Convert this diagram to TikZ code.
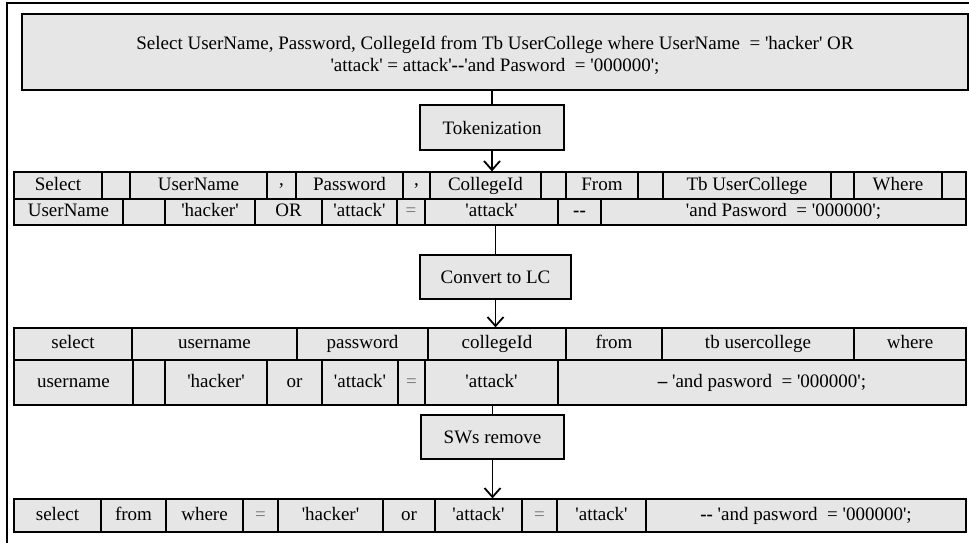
\documentclass[tikz,border=0pt]{standalone}
\usepackage{fontspec}
\setmainfont{Liberation Serif}
\newfontfamily\tfont{Liberation Serif}
\usetikzlibrary{arrows.meta}
\definecolor{cellgray}{RGB}{230,230,230}
\tikzset{
  cell/.style={draw=black, line width=1.3pt, fill=cellgray, inner sep=0pt,
    font=\tfont\fontsize{19}{22}\selectfont, text height=13pt, text depth=4pt},
  procbox/.style={draw=black, line width=1.5pt, fill=cellgray, inner sep=0pt,
    font=\tfont\fontsize{19}{22}\selectfont, minimum height=44pt},
  topbox/.style={draw=black, line width=2pt, fill=cellgray, inner sep=0pt},
  toptext/.style={inner sep=0pt, align=center, font=\tfont\fontsize{19}{22}\selectfont},
  link/.style={line width=1.6pt},
  arr/.style={line width=1.8pt, -{Straight Barb[length=9pt,width=16pt,line width=1.8pt]}}
}
\newcommand\cellrow[4]{%
  \foreach \a/\b/\t [count=\i] in {#4} {
    \node[cell, minimum width={(\b-\a)*1pt}, minimum height={(#3-#2)*1pt}]
      (#1c\i) at ({(\a+\b)/2},{(#2+#3)/2}) {\t};
  }}
\newcommand\eqg{{\color{black!55}=}}
\begin{document}
\begin{tikzpicture}[x=1pt,y=-1pt]
\useasboundingbox (0,0) rectangle (969,542);
% outer frame (right and bottom sides fall outside the picture)
\draw[line width=1.5pt] (7,3) rectangle (990,560);

\node[topbox, minimum width=946pt, minimum height=76pt] (top) at (495,52) {};
\node[toptext] (toptxt) at (495,55)
  {Select UserName, Password, CollegeId from Tb UserCollege where UserName\ \ = 'hacker' OR\\
   'attack' = attack'{\bfseries --}'and Pasword\ \ = '000000';};

\node[procbox, minimum width=144pt, minimum height=45pt] (tok) at (492,127.5) {Tokenization};

\cellrow{r1}{172}{199}{14/102/Select, 102/130/{}, 130/267/UserName, 267/296/{\raisebox{5pt}{,}},
  296/403/Password, 403/430/{\raisebox{5pt}{,}}, 430/541/CollegeId, 541/566/{}, 566/638/From,
  638/663/{}, 663/831/Tb UserCollege, 831/854/{}, 854/942/Where, 942/966/{}}
\cellrow{r2}{199}{225}{14/123/UserName, 123/165/{}, 165/255/'hacker', 255/322/OR, 322/397/'attack',
  397/425/\eqg, 425/558/'attack', 558/601/{\bfseries --}, 601/966/{'and Pasword\ \ = '000000';}}

\node[procbox, minimum width=151pt, minimum height=44pt] (conv) at (495.5,277) {Convert to LC};

\cellrow{r3}{328}{360}{14/132/select, 132/297/username, 297/428/password, 428/566/collegeId,
  566/662/from, 662/854/tb usercollege, 854/966/where}
\cellrow{r4}{360}{405}{14/133/username, 133/165/{}, 165/267/'hacker', 267/322/or, 322/398/'attack',
  398/425/\eqg, 425/558/'attack', 558/966/{{\bfseries –} 'and pasword\ \ = '000000';}}

\node[procbox, minimum width=143pt, minimum height=44pt] (sws) at (492.5,437) {SWs remove};

\cellrow{r5}{499}{532}{14/101/select, 101/166/from, 166/243/where, 243/278/\eqg, 278/383/'hacker',
  383/435/or, 435/522/'attack', 522/557/\eqg, 557/646/'attack', 646/966/{{\bfseries --} 'and pasword\ \ = '000000';}}

% connectors
\draw[link] (tok.north) -- (tok.north |- top.south);
\draw[arr] (tok.south) -- (tok.south |- r1c7.north);
\draw[link] (conv.north) -- (conv.north |- r2c7.south);
\draw[arr] (conv.south) -- (conv.south |- r3c4.north);
\draw[link] (sws.north) -- (sws.north |- r4c7.south);
\draw[arr] (sws.south) -- (sws.south |- r5c7.north);
\end{tikzpicture}
\end{document}
